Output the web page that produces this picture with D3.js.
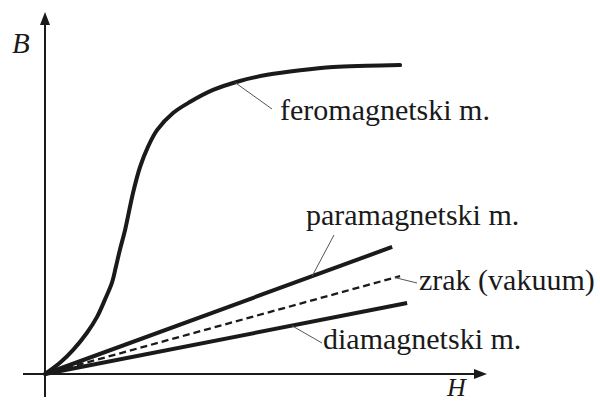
<!DOCTYPE html>
<html>
<head>
<meta charset="utf-8">
<script src="https://cdn.jsdelivr.net/npm/d3@7"></script>
<style>
  body { margin: 0; background: #fff; }
</style>
</head>
<body>
<div id="chart"></div>
<script>
// B(H) curves (arbitrary units, H 0..10, B 0..10)
const feroH = [0, 0.34, 0.64, 0.95, 1.18, 1.36, 1.52, 1.61, 1.70, 1.82, 2.00, 2.16, 2.34, 2.55, 2.91, 3.30, 3.82, 4.43, 5.05, 5.80, 6.55, 7.32, 8.07];
const feroB = [0, 0.31, 0.67, 1.14, 1.58, 2.06, 2.53, 2.97, 3.44, 4.00, 5.03, 5.75, 6.31, 6.78, 7.25, 7.56, 7.89, 8.14, 8.31, 8.44, 8.53, 8.56, 8.58];

// straight lines from the origin: end point of each
const lineNames = ["paramagnetski m.", "zrak (vakuum)", "diamagnetski m."];
const lineEndH = [7.89, 8.07, 8.23];
const lineEndB = [3.53, 2.72, 1.97];

// where the leader line touches each curve (H value)
const labelNames = ["feromagnetski m.", "paramagnetski m.", "zrak (vakuum)", "diamagnetski m."];
const leaderAtH = [4.32, 6.07, 7.95, 5.61];

const width = 600, height = 403;
const serif = "'Liberation Serif', 'Times New Roman', 'DejaVu Serif', serif";

const x = d3.scaleLinear().domain([0, 10]).range([45, 485]);
const y = d3.scaleLinear().domain([0, 10]).range([374, 14]);

const svg = d3.select("#chart").append("svg")
    .attr("width", width)
    .attr("height", height)
    .attr("viewBox", [0, 0, width, height]);

const ink = "#1a1a1a";

// axes with arrowheads
svg.append("line")
    .attr("x1", 23).attr("x2", 478)
    .attr("y1", y(0)).attr("y2", y(0))
    .attr("stroke", ink).attr("stroke-width", 2);
svg.append("path")
    .attr("d", `M487,${y(0)} L474,${y(0) - 5} L474,${y(0) + 5} Z`)
    .attr("fill", ink);

svg.append("line")
    .attr("x1", x(0)).attr("x2", x(0))
    .attr("y1", 397).attr("y2", 22)
    .attr("stroke", ink).attr("stroke-width", 2);
svg.append("path")
    .attr("d", `M${x(0)},12 L${x(0) - 5},25 L${x(0) + 5},25 Z`)
    .attr("fill", ink);

svg.append("text")
    .attr("x", 12).attr("y", 53)
    .attr("font-family", serif)
    .attr("font-size", 29)
    .attr("font-style", "italic")
    .attr("fill", ink)
    .text("B");
svg.append("text")
    .attr("x", 447).attr("y", 396)
    .attr("font-family", serif)
    .attr("font-size", 26)
    .attr("font-style", "italic")
    .attr("fill", ink)
    .text("H");

// ferromagnetic curve
const fero = feroH.map((h, i) => [h, feroB[i]]);
const curve = d3.line()
    .x(d => x(d[0]))
    .y(d => y(d[1]))
    .curve(d3.curveCatmullRom.alpha(0.5));

svg.append("path")
    .datum(fero)
    .attr("d", curve)
    .attr("fill", "none")
    .attr("stroke", ink)
    .attr("stroke-width", 4)
    .attr("stroke-linecap", "round");

// straight lines
const lines = lineNames.map((name, i) => ({
  name,
  pts: [[0, 0], [lineEndH[i], lineEndB[i]]]
}));

svg.selectAll("path.lin")
  .data(lines)
  .join("path")
    .attr("class", "lin")
    .attr("d", d => d3.line().x(p => x(p[0])).y(p => y(p[1]))(d.pts))
    .attr("fill", "none")
    .attr("stroke", ink)
    .attr("stroke-width", d => d.name === "zrak (vakuum)" ? 2.3 : 4)
    .attr("stroke-dasharray", d => d.name === "zrak (vakuum)" ? "7,4" : null);

// B value on a curve at a given H
function bAt(name, h) {
  if (name === "feromagnetski m.") {
    const i = d3.bisectLeft(feroH, h);
    const t = (h - feroH[i - 1]) / (feroH[i] - feroH[i - 1]);
    return feroB[i - 1] + t * (feroB[i] - feroB[i - 1]);
  }
  const j = lineNames.indexOf(name);
  return lineEndB[j] * h / lineEndH[j];
}

// label placement (pixels): text start and leader end
const labelLayout = [
  { tx: 280, ty: 120, lx: 272, ly: 109 },
  { tx: 306, ty: 225, lx: 334, ly: 235 },
  { tx: 419, ty: 290, lx: 417, ly: 283 },
  { tx: 323, ty: 349, lx: 322, ly: 343 }
];

labelNames.forEach((name, i) => {
  const h = leaderAtH[i];
  const L = labelLayout[i];
  svg.append("line")
      .attr("x1", x(h)).attr("y1", y(bAt(name, h)))
      .attr("x2", L.lx).attr("y2", L.ly)
      .attr("stroke", "#555")
      .attr("stroke-width", 1);
  svg.append("text")
      .attr("x", L.tx).attr("y", L.ty)
      .attr("font-family", serif)
      .attr("font-size", 30)
      .attr("fill", ink)
      .text(name);
});
</script>
</body>
</html>
